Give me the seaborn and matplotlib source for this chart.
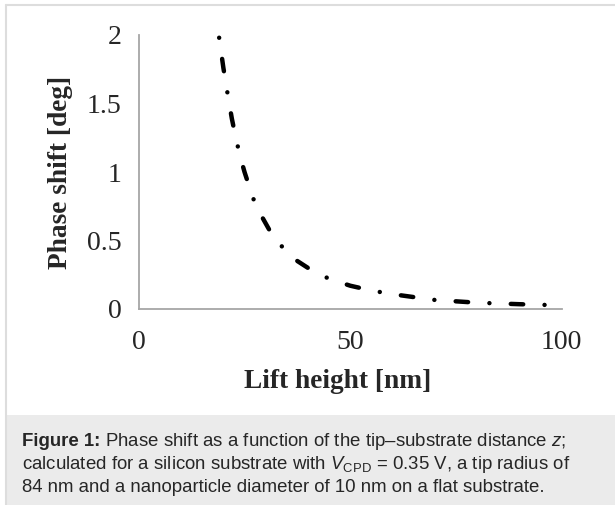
import numpy as np
import pandas as pd
import seaborn as sns
import matplotlib.pyplot as plt
from matplotlib.patches import Rectangle
from matplotlib.lines import Line2D

# values
lift_height = [19, 20, 21, 22, 23, 24, 25, 27, 29, 31, 34, 37, 40, 45, 50, 55, 60, 70, 80, 90, 97]
phase_shift = [1.98, 1.76, 1.57, 1.39, 1.24, 1.11, 1.00, 0.81, 0.68, 0.57, 0.45, 0.36, 0.30,
               0.22, 0.17, 0.135, 0.108, 0.066, 0.046, 0.035, 0.029]

x_ticks = [0, 50, 100]
y_ticks = [0, 0.5, 1, 1.5, 2]
x_label = 'Lift height [nm]'
y_label = 'Phase shift [deg]'
caption_bold = 'Figure 1:'
caption_rest = ' Phase shift as a function of the tip\u2013substrate distance $z$;'
caption_line2 = 'calculated for a silicon substrate with $V_{\\mathrm{CPD}}$ = 0.35 V, a tip radius of'
caption_line3 = '84 nm and a nanoparticle diameter of 10 nm on a flat substrate.'

sns.set_style('white')
plt.rcParams['font.family'] = ['Liberation Serif', 'DejaVu Serif']
plt.rcParams['mathtext.fontset'] = 'custom'
plt.rcParams['mathtext.rm'] = 'Liberation Sans'
plt.rcParams['mathtext.it'] = 'Liberation Sans:italic'
plt.rcParams['mathtext.bf'] = 'Liberation Sans:bold'

W, H = 615, 505
fig = plt.figure(figsize=(W / 100, H / 100), dpi=100)
fig.patch.set_facecolor('white')

ax = fig.add_axes([138.8 / W, 196 / H, 422.9 / W, 274 / H])
df = pd.DataFrame({'z': lift_height, 'phase': phase_shift})
sns.lineplot(data=df, x='z', y='phase', color='black', lw=3.2, ax=ax,
             linestyle=(0, (0.01, 4.8, 2.8, 4.8)))
ax.lines[0].set_dash_capstyle('round')

ax.set_xlim(0, 100)
ax.set_ylim(0, 2)
ax.set_xticks(x_ticks)
ax.set_yticks(y_ticks)
ax.set_xticklabels([str(t) for t in x_ticks])
ax.set_yticklabels(['0', '0.5', '1', '1.5', '2'])

axis_grey = '#a6a6a6'
for side in ['top', 'right']:
    ax.spines[side].set_visible(False)
for side in ['left', 'bottom']:
    ax.spines[side].set_color(axis_grey)
    ax.spines[side].set_linewidth(1.3)
ax.tick_params(axis='y', length=6.5, width=1, color=axis_grey, labelsize=20, pad=6)
ax.tick_params(axis='x', length=6, width=1, color=axis_grey, labelsize=20, pad=9)
ax.set_xlabel(x_label, fontsize=19.7, fontweight='bold')
ax.set_ylabel(y_label, fontsize=19.7, fontweight='bold')
ax.xaxis.set_label_coords(0.471, -0.22)
ax.yaxis.set_label_coords(-0.155, 0.5)

# page frame and caption box
fig.add_artist(Line2D([6 / W, 1], [1 - 5 / H, 1 - 5 / H], color='#dddddd', lw=1.5,
                      transform=fig.transFigure))
fig.add_artist(Line2D([6 / W, 6 / W], [0, 1 - 5 / H], color='#dddddd', lw=1.5,
                      transform=fig.transFigure))
fig.add_artist(Rectangle((7 / W, 0), 1, 90 / H, facecolor='#ebebeb', edgecolor='none',
                         transform=fig.transFigure, zorder=0))

cap_font = {'family': ['Liberation Sans', 'DejaVu Sans'], 'size': 13.4}
t1 = fig.text(22 / W, 1 - 446 / H, caption_bold, fontdict=cap_font, fontweight='bold', va='baseline')
fig.canvas.draw()
bb = t1.get_window_extent()
fig.text(bb.x1 / W, 1 - 446 / H, caption_rest, fontdict=cap_font, va='baseline')
fig.text(22 / W, 1 - 469 / H, caption_line2, fontdict=cap_font, va='baseline')
fig.text(22 / W, 1 - 492 / H, caption_line3, fontdict=cap_font, va='baseline')

fig.savefig('out.png', dpi=100)
